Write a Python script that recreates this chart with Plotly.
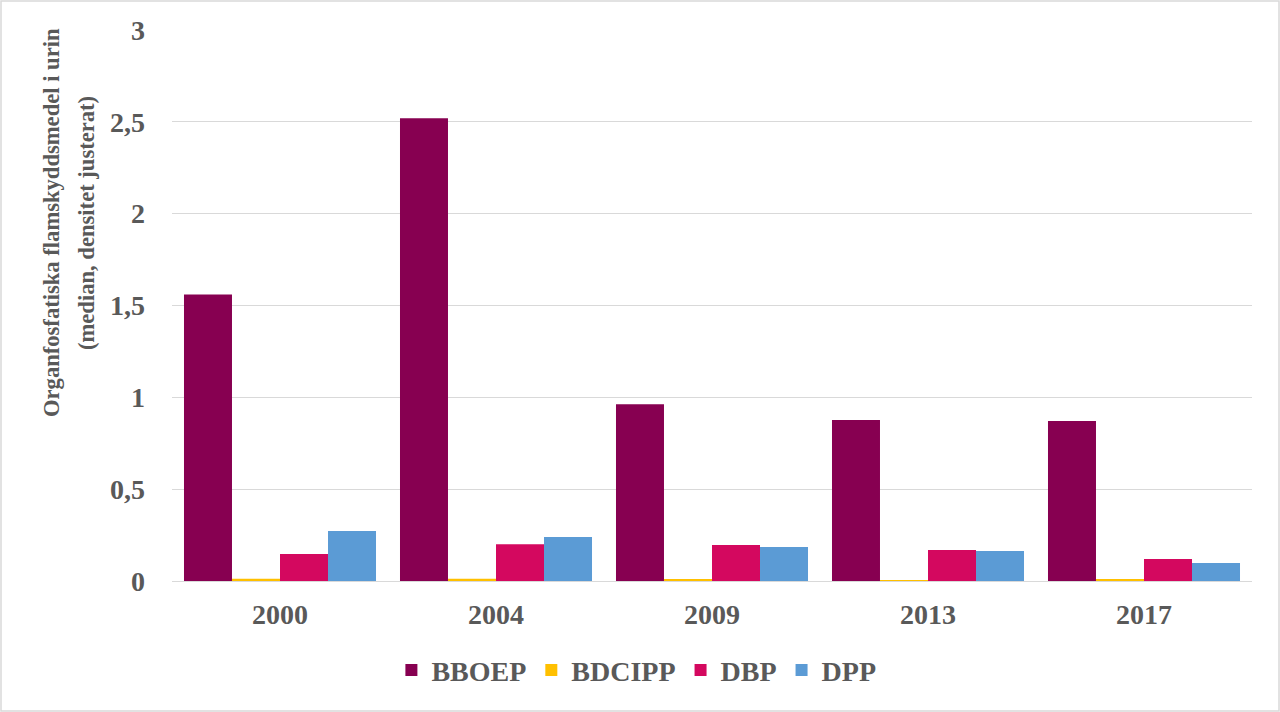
import plotly.graph_objects as go

years = ["2000", "2004", "2009", "2013", "2017"]
bboep = [1.56, 2.52, 0.963, 0.876, 0.871]
bdcipp = [0.012, 0.012, 0.008, 0.004, 0.006]
dbp = [0.147, 0.20, 0.196, 0.169, 0.12]
dpp = [0.272, 0.24, 0.185, 0.163, 0.098]
series_names = ["BBOEP", "BDCIPP", "DBP", "DPP"]
colors = ["#870051", "#FFC000", "#D4085F", "#5B9BD5"]
yticks = [0, 0.5, 1, 1.5, 2, 2.5, 3]
ytick_text = ["0", "0,5", "1", "1,5", "2", "2,5", "3"]
title_lines = ["Organfosfatiska flamskyddsmedel i urin", "(median, densitet justerat)"]

font_fam = "Liberation Serif"
gray = "#595959"

L, R, T, B = 172, 28, 30, 131
PW, PH = 1280 - L - R, 712 - T - B

fig = go.Figure()
for name, vals, c in zip(series_names, [bboep, bdcipp, dbp, dpp], colors):
    fig.add_trace(go.Bar(name=name, x=years, y=vals, marker_color=c,
                         marker_line_width=0))

fig.update_layout(
    width=1280, height=712,
    paper_bgcolor="white", plot_bgcolor="white",
    margin=dict(l=L, r=R, t=T, b=B),
    barmode="group", bargap=0.111, bargroupgap=0,
    separators=", ",
    font=dict(family=font_fam, color=gray, size=28),
    legend=dict(orientation="h", x=0.43, xanchor="center", y=-0.162, yanchor="middle",
                font=dict(family=font_fam, size=28, color=gray, weight="bold"),
                itemwidth=30, tracegroupgap=0),
    showlegend=True,
)
fig.update_xaxes(
    type="category", showline=True, linecolor="#d9d9d9", linewidth=1,
    tickfont=dict(family=font_fam, size=28, color=gray, weight="bold"),
    ticks="", ticklabelstandoff=8,
)
fig.update_yaxes(
    range=[0, 3], tickvals=yticks, ticktext=ytick_text,
    showgrid=True, gridcolor="#d9d9d9", gridwidth=1, zeroline=False,
    tickfont=dict(family=font_fam, size=28, color=gray, weight="bold"),
    ticks="", ticklabelstandoff=26,
)
title_x_px = [51, 86]
for txt, xp in zip(title_lines, title_x_px):
    fig.add_annotation(text=txt, xref="paper", yref="paper",
                       x=(xp - L) / PW, y=(581 - 223) / PH, xanchor="center", yanchor="middle",
                       textangle=-90, showarrow=False,
                       font=dict(family=font_fam, size=22.6, color=gray, weight="bold"))
fig.add_shape(type="rect", xref="paper", yref="paper",
              x0=(1 - L) / PW, x1=(1279 - L) / PW,
              y0=(581 - 711) / PH, y1=(581 - 1) / PH,
              line=dict(color="#d9d9d9", width=1.5), fillcolor="rgba(0,0,0,0)", layer="below")
fig.write_html("out.html", config={"displayModeBar": False},
               post_script="document.body.style.margin='0';document.body.style.overflow='hidden';")
